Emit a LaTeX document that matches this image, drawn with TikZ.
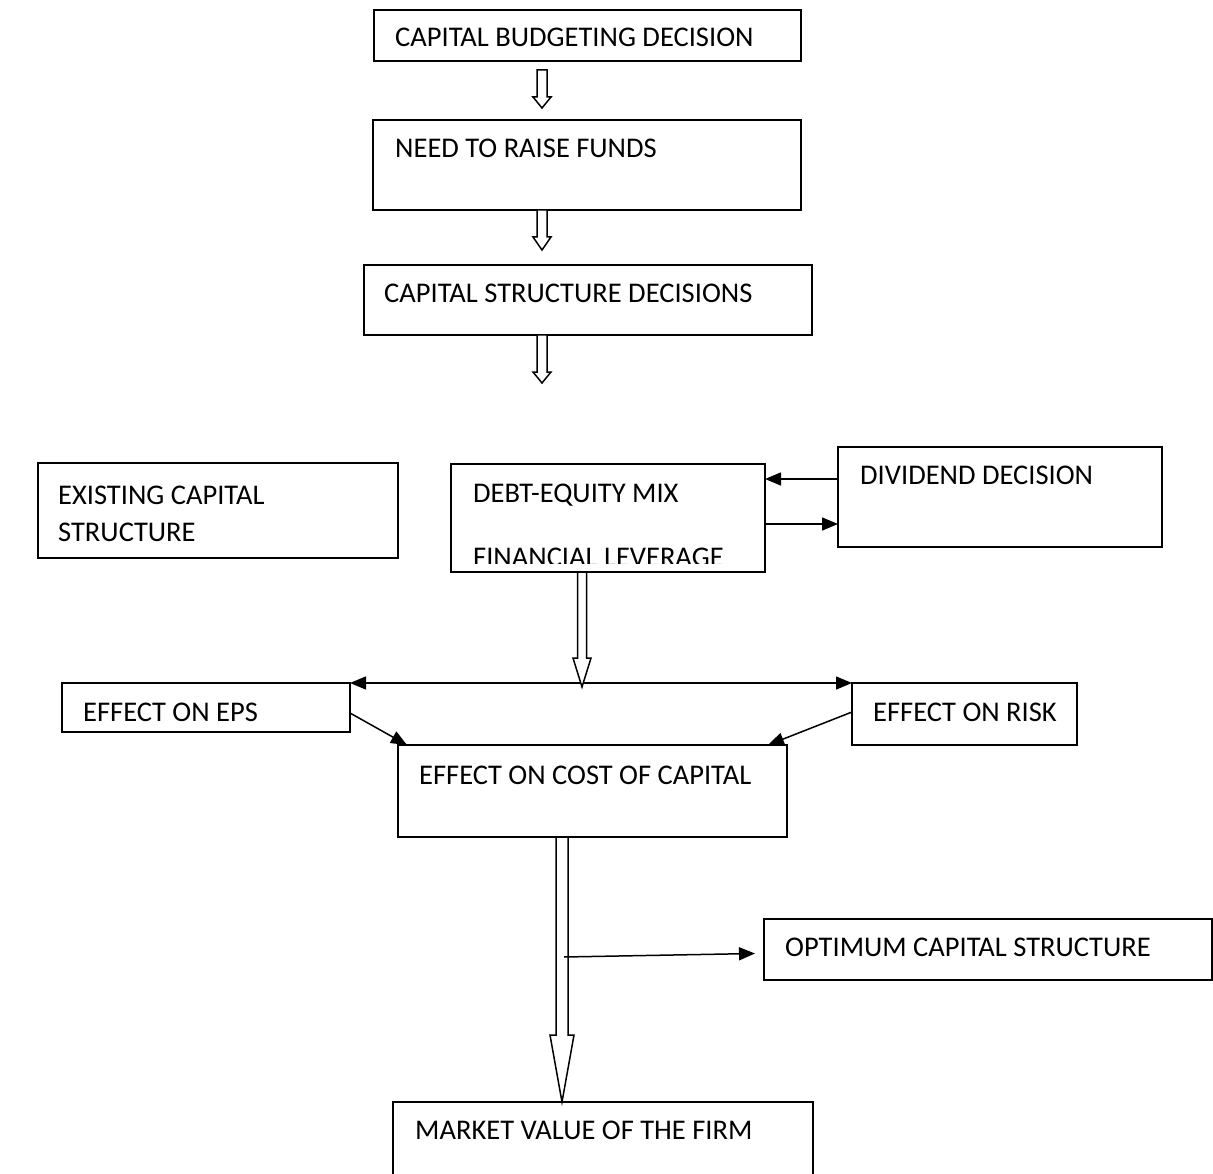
\documentclass[tikz,border=0pt]{standalone}
\usepackage{fontspec}
\setmainfont{Carlito}
\usetikzlibrary{arrows.meta,calc}
\newcommand\hollowarr[5]{%
  \draw[harr] let \p1=(#1), \p2=(#2) in
    (\x1-#3pt,\y1) -- (\x1-#3pt,\y2+#5pt) -- (\x1-#4pt,\y2+#5pt) -- (\x1,\y2)
    -- (\x1+#4pt,\y2+#5pt) -- (\x1+#3pt,\y2+#5pt) -- (\x1+#3pt,\y1) -- cycle;}
\begin{document}
\begin{tikzpicture}[x=1pt,y=-1pt,
  box/.style={draw, line width=1.5pt, inner sep=0pt, outer sep=0pt, anchor=north west},
  lbl/.style={anchor=base west, inner sep=0pt, font=\fontsize{28.5pt}{34pt}\selectfont},
  arr/.style={line width=1.5pt, -{Triangle[length=16pt,width=13pt]}},
  dblarr/.style={line width=1.5pt, {Triangle[length=16pt,width=13pt]}-{Triangle[length=16pt,width=13pt]}},
  harr/.style={line width=1.5pt, fill=white, line join=miter}]
\useasboundingbox (0,0) rectangle (1213,1174);
\clip (0,0) rectangle (1213,1174);

% boxes
\node[box, minimum width=427pt, minimum height=51pt] (b1) at (374,10) {};
\node[box, minimum width=428pt, minimum height=90pt] (b2) at (373,120) {};
\node[box, minimum width=448pt, minimum height=70pt] (b3) at (364,265) {};
\node[box, minimum width=360pt, minimum height=95pt] (ex) at (38,463) {};
\node[box, minimum width=314pt, minimum height=108pt] (de) at (451,464) {};
\node[box, minimum width=324pt, minimum height=100pt] (dv) at (838,447) {};
\node[box, minimum width=288pt, minimum height=49pt] (eps) at (62,683) {};
\node[box, minimum width=225pt, minimum height=62pt] (risk) at (852,683) {};
\node[box, minimum width=389pt, minimum height=92pt] (cost) at (398,745) {};
\node[box, minimum width=448pt, minimum height=61pt] (opt) at (764,919) {};
\node[box, minimum width=420pt, minimum height=100pt] (mkt) at (393,1102) {};

% labels
\node[lbl] (t1) at (395,47) {CAPITAL BUDGETING DECISION};
\node[lbl] (t2) at (395,158) {NEED TO RAISE FUNDS};
\node[lbl] (t3) at (384,303) {CAPITAL STRUCTURE DECISIONS};
\node[lbl] (t4a) at (58,504) {EXISTING CAPITAL};
\node[lbl] (t4b) at (58,541) {STRUCTURE};
\node[lbl] (t5) at (473,502) {DEBT-EQUITY MIX};
\begin{scope}
  \clip (452,465) rectangle (764,563);
  \node[lbl] (t5b) at (473,566) {FINANCIAL LEVERAGE};
\end{scope}
\node[lbl] (t6) at (860,484) {DIVIDEND DECISION};
\node[lbl] (t7) at (83,721) {EFFECT ON EPS};
\node[lbl] (t8) at (873,721) {EFFECT ON RISK};
\node[lbl] (t9) at (419,784) {EFFECT ON COST OF CAPITAL};
\node[lbl] (t10) at (785,956) {OPTIMUM CAPITAL STRUCTURE};
\node[lbl] (t11) at (415,1139) {MARKET VALUE OF THE FIRM};

% hollow arrows
\coordinate (a1s) at ($(b1.south west)+(168,9)$);
\coordinate (a1t) at ($(b2.north west)+(169,-12)$);
\hollowarr{a1s}{a1t}{5}{9}{11}
\coordinate (a2s) at ($(b2.south west)+(169,0)$);
\coordinate (a2t) at ($(b3.north west)+(178,-15)$);
\hollowarr{a2s}{a2t}{5}{9}{13}
\coordinate (a3s) at ($(b3.south west)+(178,0)$);
\coordinate (a3t) at ($(b3.south west)+(178,48)$);
\hollowarr{a3s}{a3t}{5}{9}{11}
\coordinate (a4s) at ($(de.south west)+(131,0)$);
\coordinate (a4t) at ($(de.south west)+(131,115)$);

% dividend links
\draw[arr] ($(dv.north west)+(0,32)$) -- ($(de.north east)+(0,15)$);
\draw[arr] ($(de.north east)+(0,60)$) -- ($(dv.north west)+(0,77)$);

% effect links
\draw[dblarr] (eps.north east) -- (risk.north west);
\hollowarr{a4s}{a4t}{4.5}{9}{29}
\draw[arr] ($(eps.north east)+(0,30)$) -- ($(cost.north west)+(9,0)$);
\draw[arr] ($(risk.north west)+(0,29)$) -- ($(cost.north east)+(-19,0)$);

% to market value
\coordinate (a5s) at ($(cost.south west)+(164,0)$);
\coordinate (a5t) at ($(mkt.north west)+(169,0)$);
\hollowarr{a5s}{a5t}{6}{12}{67}
\coordinate (oa) at (564,957);
\draw[arr] (oa) -- ($(opt.west)+(-9,4)$);
\end{tikzpicture}
\end{document}
